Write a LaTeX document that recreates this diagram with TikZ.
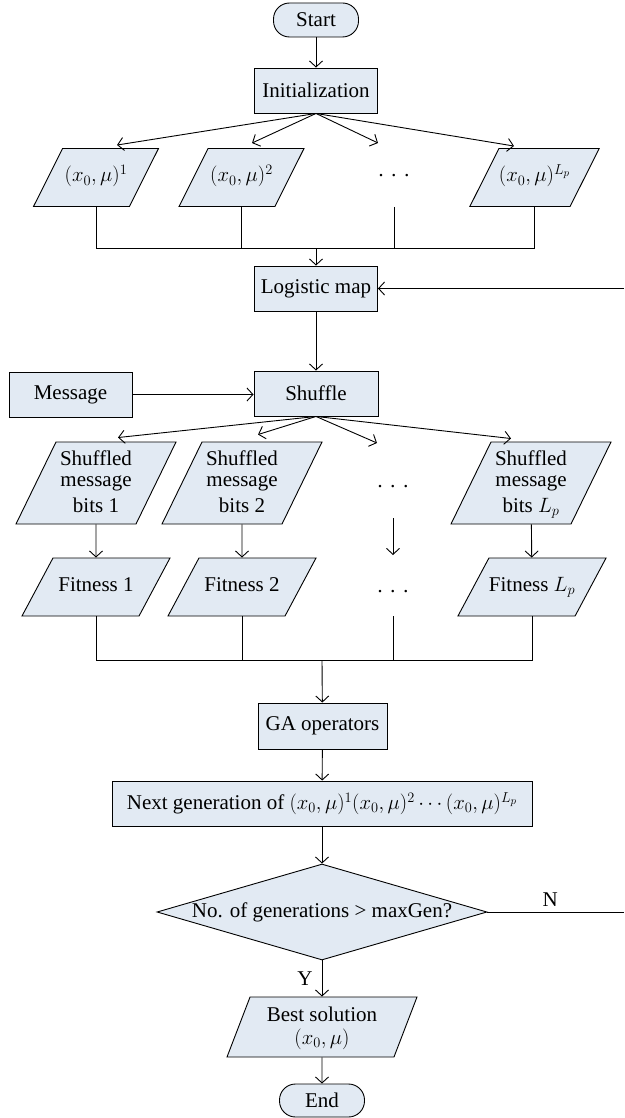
\documentclass[tikz,border=0pt]{standalone}
\usepackage{fontspec}
\setmainfont{Liberation Serif}
\usetikzlibrary{arrows.meta,shapes.geometric}
\definecolor{boxfill}{RGB}{226,234,243}
\begin{document}
\begin{tikzpicture}[x=1pt,y=-1pt,
  every node/.style={font=\fontsize{21}{21}\selectfont, inner sep=0pt},
  base/.style={draw, line width=0.9pt, fill=boxfill},
  procbox/.style={base, rectangle, minimum height=45pt},
  termbox/.style={base, rectangle, rounded corners=16pt, minimum width=85pt, minimum height=34pt},
  parabase/.style={base, trapezium, trapezium stretches body=true, inner xsep=0pt},
  paraA/.style={parabase, trapezium left angle=63.4, trapezium right angle=116.6, minimum width=125pt, text height=14pt, text depth=5pt, inner ysep=19.5pt},
  paraB/.style={parabase, trapezium left angle=64, trapezium right angle=116, minimum width=160pt, align=center, text height=66pt, text depth=8pt, inner ysep=4pt},
  paraC/.style={parabase, trapezium left angle=61.9, trapezium right angle=118.1, minimum width=148pt, text height=14pt, text depth=5pt, inner ysep=19.5pt},
  paraD/.style={parabase, trapezium left angle=69, trapezium right angle=111, minimum width=190pt, align=center, text height=44pt, text depth=10pt, inner ysep=3pt},
  decbox/.style={base, diamond, shape aspect=3.4, minimum width=330pt, minimum height=96pt},
  conn/.style={line width=0.9pt},
  arr/.style={line width=0.9pt, -{Straight Barb[length=6pt,width=13pt]}}
]
\useasboundingbox (0,0) rectangle (624,1118);

% top part
\node[termbox] (start) at (316,20) {Start};
\node[procbox, minimum width=123pt] (init) at (316,90.5) {Initialization};
\node[paraA] (a1) at (96,177.5) {$(x_0,\mu)^1$};
\node[paraA] (a2) at (241.5,177.5) {$(x_0,\mu)^2$};
\node (ad) at (394,178) {·\hspace{6pt}·\hspace{6pt}·};
\node[paraA] (a4) at (534.5,177.5) {$(x_0,\mu)^{L_p}$};
\coordinate (j1) at (316,248);
\node[procbox, minimum width=123pt] (logistic) at (316,288.5) {Logistic map};
\coordinate (loopin) at (624,288.5);
\node[procbox, minimum width=124pt] (shuffle) at (316,393.5) {Shuffle};
\node[procbox, minimum width=123pt] (message) at (70.5,394.5) {Message};

% shuffled rows
\node[paraB] (b1) at (96,483) {Shuffled\\message\\[5pt]bits 1};
\node[paraB] (b2) at (242,483) {Shuffled\\message\\[5pt]bits 2};
\node (bd) at (393,489) {·\hspace{6pt}·\hspace{6pt}·};
\node[paraB] (b4) at (531,483) {Shuffled\\message\\[5pt]bits $L_p$};

\node[paraC] (c1) at (96,587) {Fitness 1};
\node[paraC] (c2) at (242,587) {Fitness 2};
\node (cd) at (393,594) {·\hspace{6pt}·\hspace{6pt}·};
\node[paraC] (c4) at (532,587) {Fitness $L_p$};
\coordinate (j2) at (322,660);

% bottom part
\node[procbox, minimum width=129pt, minimum height=46pt] (ga) at (322.5,726) {GA operators};
\node[procbox, minimum width=420pt] (next) at (322,803.5) {Next generation of $(x_0,\mu)^1(x_0,\mu)^2\cdots(x_0,\mu)^{L_p}$};
\node[decbox] (dec) at (322,912) {No. of generations > maxGen?};
\coordinate (loopout) at (624,912);
\node[paraD] (best) at (322,1027) {Best solution\\[2pt]$(x_0,\mu)$};
\node[termbox, minimum height=33pt] (endn) at (322,1100.5) {End};

% connectors top
\draw[arr] (start) -- (init);
\draw[arr] (init.south) -- ([xshift=21pt,yshift=3pt]a1.north);
\draw[arr] (init.south) -- ([xshift=10.5pt,yshift=5pt]a2.north);
\draw[arr] (init.south) -- ([xshift=-16pt,yshift=35pt]ad.center);
\draw[arr] (init.south) -- ([xshift=-20.5pt,yshift=2pt]a4.north);
\draw[conn] (a1.south) |- (j1);
\draw[conn] (a2.south) |- (j1);
\draw[conn] (ad.center |- a1.south) |- (j1);
\draw[conn] (a4.south) |- (j1);
\draw[arr] (j1) -- (logistic);
\draw[arr] (loopin) -- (logistic);
\draw[arr] (logistic) -- (shuffle);
\draw[arr] (message) -- (message -| shuffle.west);

% connectors middle
\draw[arr] (shuffle.south) -- ([xshift=22pt,yshift=4pt]b1.north);
\draw[arr] (shuffle.south) -- ([xshift=16pt,yshift=7pt]b2.north);
\draw[arr] (shuffle.south) -- ([xshift=-16pt,yshift=46pt]bd.center);
\draw[arr] (shuffle.south) -- ([xshift=-20pt,yshift=3pt]b4.north);
\draw[arr] (b1) -- (c1);
\draw[arr] (b2) -- (c2);
\draw[arr] ([yshift=-29pt]bd.center) -- ([yshift=39pt]cd.center);
\draw[arr] (b4) -- (c4);
\draw[conn] (c1.south) |- (j2);
\draw[conn] (c2.south) |- (j2);
\draw[conn] (cd.center |- c1.south) |- (j2);
\draw[conn] (c4.south) |- (j2);
\draw[arr] (j2) -- (ga);

% connectors bottom
\draw[arr] (ga) -- (next);
\draw[arr] (next) -- (dec);
\draw[conn] (dec.east) -- (loopout) node[pos=0.46, above=5pt] {N};
\draw[arr] (dec) -- (best) node[midway, left=9pt] {Y};
\draw[arr] (best) -- (endn);
\end{tikzpicture}
\end{document}
